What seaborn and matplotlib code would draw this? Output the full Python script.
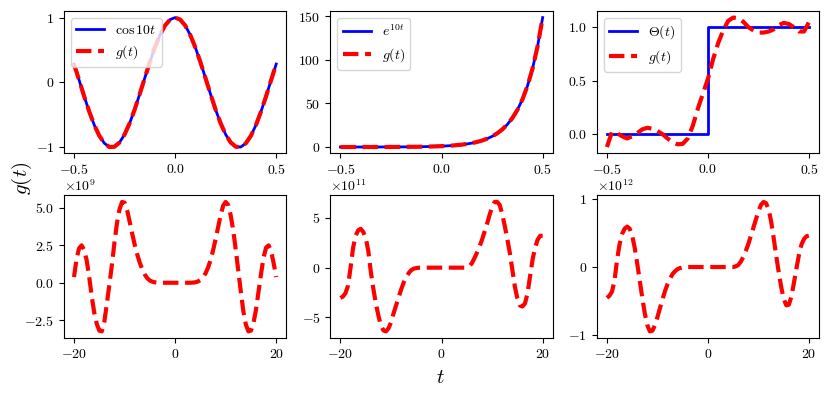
"""
plot.py

Aproximaciones g(t) de cos 10t, e^{10t} y Theta(t) (fila superior)
y el comportamiento de g(t) en un rango amplio de t (fila inferior).
"""

import numpy as np
import matplotlib
matplotlib.use("Agg")
import matplotlib.pyplot as plt
import seaborn as sns

# =========================
# Datos
# =========================

# fila superior: t en [-0.5, 0.5], paso 0.025
t_top = np.linspace(-0.5, 0.5, 41)

cos_10t = [0.284, 0.038, -0.211, -0.446, -0.654, -0.820, -0.936, -0.994, -0.990, -0.924,
           -0.801, -0.628, -0.416, -0.178, 0.071, 0.315, 0.540, 0.732, 0.878, 0.969,
           1.000,
           0.969, 0.878, 0.732, 0.540, 0.315, 0.071, -0.178, -0.416, -0.628, -0.801,
           -0.924, -0.990, -0.994, -0.936, -0.820, -0.654, -0.446, -0.211, 0.038, 0.284]
g_cos = list(cos_10t)

exp_10t = [0.007, 0.009, 0.011, 0.014, 0.018, 0.024, 0.030, 0.039, 0.050, 0.064,
           0.082, 0.105, 0.135, 0.174, 0.223, 0.287, 0.368, 0.472, 0.607, 0.779,
           1.000,
           1.284, 1.649, 2.117, 2.718, 3.490, 4.482, 5.755, 7.389, 9.488, 12.18,
           15.64, 20.09, 25.79, 33.12, 42.52, 54.60, 70.11, 90.02, 115.6, 148.4]
g_exp = list(exp_10t)

t_step = [-0.5, 0.0, 0.0, 0.5]
theta = [0, 0, 1, 1]
g_step = [-0.12, 0.02, 0.01, -0.02, -0.04, -0.02, 0.01, 0.045, 0.06, 0.05,
          0.03, 0.0, -0.04, -0.075, -0.095, -0.09, -0.04, 0.08, 0.24, 0.38,
          0.52,
          0.70, 0.85, 0.97, 1.06, 1.09, 1.085, 1.05, 1.0, 0.97, 0.95,
          0.95, 0.96, 0.98, 1.02, 1.04, 1.03, 1.0, 0.96, 0.96, 1.05]

# fila inferior: t en [-20, 20], paso 0.5
t_bot = np.linspace(-20, 20, 81)

g_b1 = [0.38, 1.6, 2.3, 2.5, 2.2, 1.5, 0.4, -0.9, -2.0, -2.75,
        -3.2, -3.25, -2.6, -1.4, -0.1, 1.2, 2.7, 4.0, 4.9, 5.4,
        5.35, 4.85, 4.1, 3.3, 2.55, 1.9, 1.35, 0.9, 0.55, 0.3,
        0.15, 0.07, 0.03, 0.01, 0, 0, 0, 0, 0, 0,
        0,
        0, 0, 0, 0, 0, 0, 0.01, 0.03, 0.08, 0.18,
        0.35, 0.62, 1.0, 1.5, 2.15, 2.9, 3.7, 4.5, 5.15, 5.4,
        5.2, 4.5, 3.5, 2.2, 0.8, -0.6, -1.9, -2.8, -3.25, -3.2,
        -2.7, -1.8, -0.6, 0.6, 1.7, 2.35, 2.5, 2.1, 1.3, 0.38]

g_b2 = [-3.05, -2.9, -2.55, -1.8, 0.0, 2.0, 3.2, 3.75, 3.9, 3.6,
        3.0, 1.7, -0.4, -2.1, -3.6, -4.8, -5.8, -6.3, -6.4, -6.1,
        -5.5, -4.6, -3.8, -3.0, -2.2, -1.5, -0.95, -0.55, -0.25, -0.1,
        -0.04, -0.01, 0, 0, 0, 0, 0, 0, 0, 0,
        0,
        0, 0, 0, 0, 0, 0, 0, 0, 0, 0.02,
        0.15, 0.45, 0.95, 1.5, 2.1, 2.8, 3.6, 4.4, 5.3, 6.1,
        6.6, 6.6, 6.3, 5.4, 4.2, 2.9, 1.5, -0.2, -1.9, -3.1,
        -3.8, -3.9, -3.6, -2.6, -0.9, 0.8, 2.0, 2.8, 3.2, 3.2]

g_b3 = [-0.45, -0.42, -0.36, -0.2, 0.1, 0.33, 0.48, 0.56, 0.59, 0.56,
        0.46, 0.28, 0.05, -0.2, -0.45, -0.68, -0.85, -0.94, -0.93, -0.85,
        -0.73, -0.6, -0.47, -0.35, -0.25, -0.17, -0.1, -0.06, -0.03, -0.015,
        -0.005, 0, 0, 0, 0, 0, 0, 0, 0, 0,
        0,
        0, 0, 0, 0, 0, 0, 0, 0, 0, 0,
        0.01, 0.03, 0.08, 0.15, 0.24, 0.34, 0.46, 0.58, 0.7, 0.82,
        0.91, 0.95, 0.93, 0.84, 0.66, 0.42, 0.16, -0.08, -0.3, -0.47,
        -0.56, -0.55, -0.43, -0.23, -0.02, 0.18, 0.33, 0.41, 0.45, 0.46]

bottom_series = [g_b1, g_b2, g_b3]
bottom_scales = [1e9, 1e11, 1e12]
bottom_yticks = [[-2.5e9, 0, 2.5e9, 5e9], [-5e11, 0, 5e11], [-1e12, 0, 1e12]]

# =========================
# Estilo
# =========================

plt.rcParams["font.family"] = "serif"
plt.rcParams["font.serif"] = ["cmr10"]
plt.rcParams["mathtext.fontset"] = "cm"
plt.rcParams["axes.formatter.use_mathtext"] = True
plt.rcParams["font.size"] = 10
plt.rcParams["axes.unicode_minus"] = True

BLUE = "blue"
RED = "red"
LW_BLUE = 2.0
LW_RED = 3.0

fig, axes = plt.subplots(2, 3, figsize=(8.3, 3.97), dpi=100)
fig.subplots_adjust(left=0.077, right=0.987, top=0.972, bottom=0.149,
                    wspace=0.198, hspace=0.295)


def plot_pair(ax, x_ref, y_ref, ref_label, x_g, y_g):
    sns.lineplot(x=x_ref, y=y_ref, ax=ax, color=BLUE, lw=LW_BLUE,
                 label=ref_label, estimator=None, sort=False)
    sns.lineplot(x=x_g, y=y_g, ax=ax, color=RED, lw=LW_RED, linestyle="--",
                 label=r"$g(t)$", estimator=None, sort=False)
    ax.legend(loc="upper left", fontsize=10)
    ax.set_xticks([-0.5, 0.0, 0.5])


plot_pair(axes[0, 0], t_top, cos_10t, r"$\cos 10t$", t_top, g_cos)
axes[0, 0].set_yticks([-1, 0, 1])

plot_pair(axes[0, 1], t_top, exp_10t, r"$e^{10t}$", t_top, g_exp)
axes[0, 1].set_yticks([0, 50, 100, 150])

plot_pair(axes[0, 2], t_step, theta, r"$\Theta(t)$", t_top, g_step)
axes[0, 2].set_yticks([0.0, 0.5, 1.0])

for ax, vals, scale, yt in zip(axes[1], bottom_series, bottom_scales, bottom_yticks):
    y = np.array(vals) * scale
    sns.lineplot(x=t_bot, y=y, ax=ax, color=RED, lw=LW_RED, linestyle="--",
                 estimator=None, sort=False)
    ax.set_xticks([-20, 0, 20])
    ax.set_yticks(yt)

for ax in axes.flat:
    ax.set_xlabel("")
    ax.set_ylabel("")

fig.text(0.027, 0.55, r"$g(t)$", rotation=90, ha="center", va="center", fontsize=15)
fig.text(0.531, 0.048, r"$t$", ha="center", va="center", fontsize=15)

fig.savefig("out.png", dpi=100)
